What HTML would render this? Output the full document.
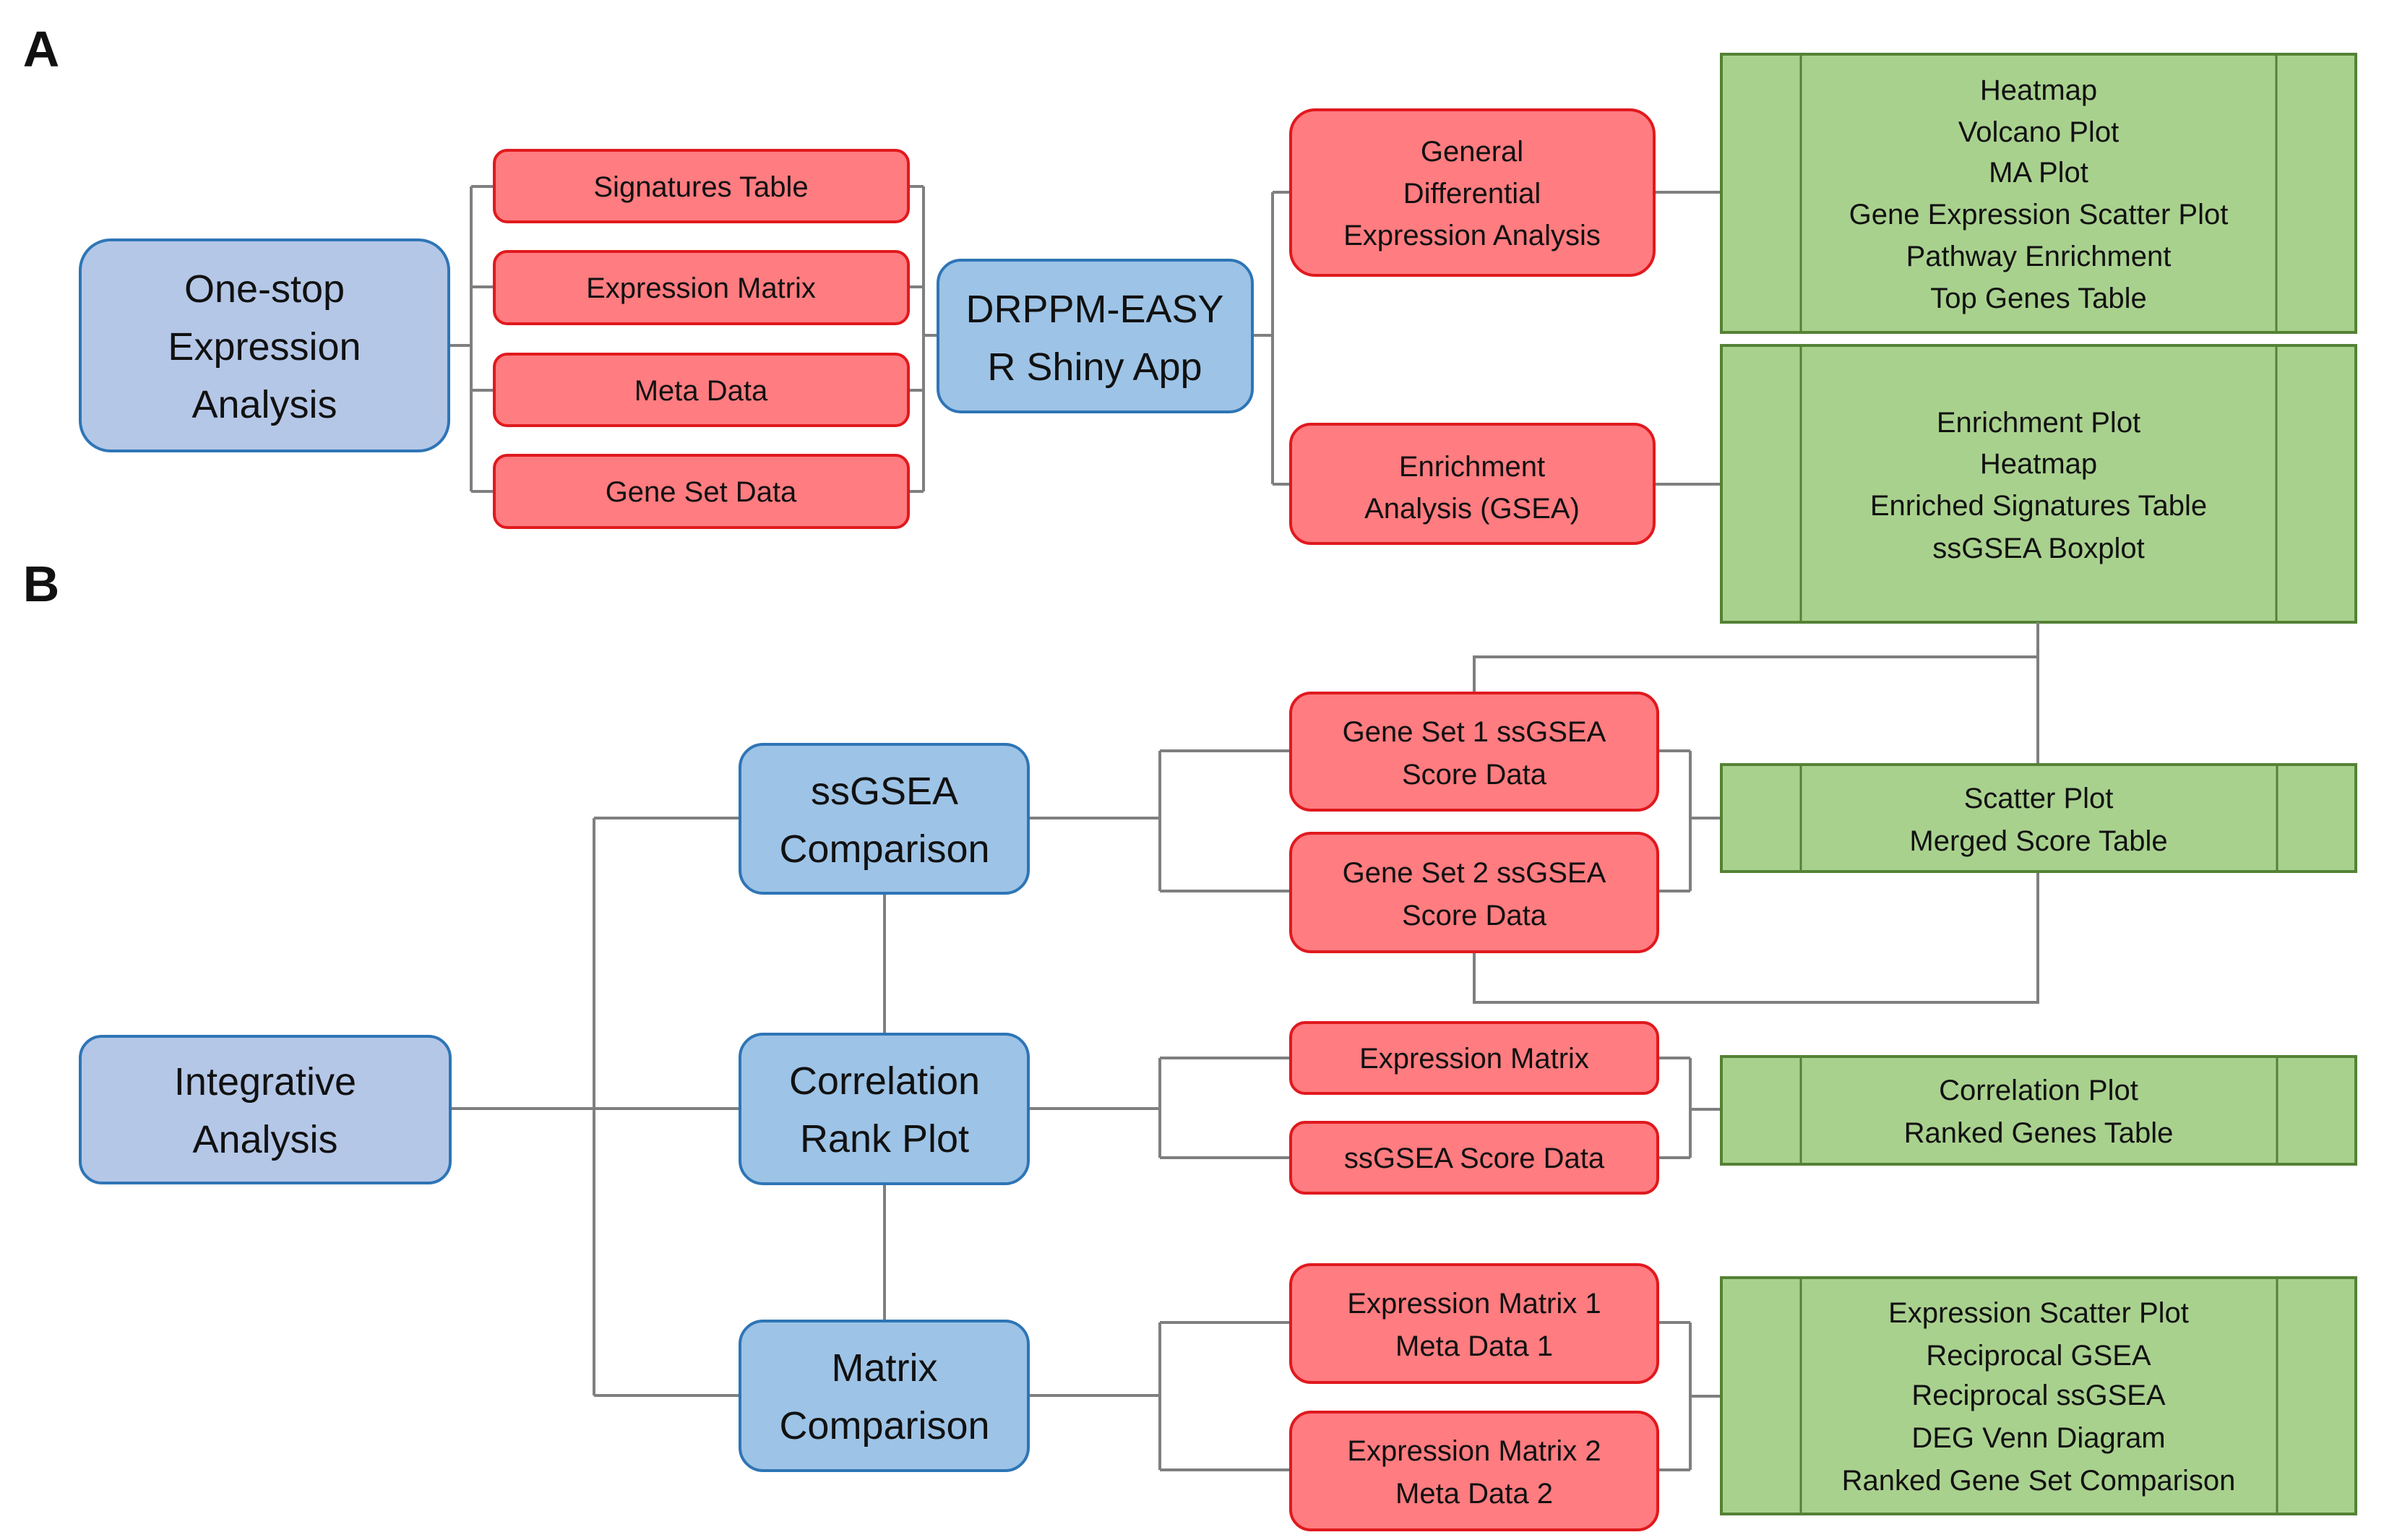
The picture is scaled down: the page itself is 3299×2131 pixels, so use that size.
<!DOCTYPE html>
<html><head><meta charset="utf-8"><style>
html,body{margin:0;padding:0;background:#fff;}
svg{display:block;}
text{font-family:"Liberation Sans",sans-serif;fill:#111;text-anchor:middle;}
.r{fill:#ff7c80;stroke:#e0191e;stroke-width:4;}
.b{fill:#9dc3e6;stroke:#2e75b6;stroke-width:4;}
.b2{fill:#b4c7e7;stroke:#2e75b6;stroke-width:4;}
.g{fill:#a9d18e;stroke:#548235;stroke-width:4;}
.gl{stroke:#548235;stroke-width:3;}
.l{stroke:#7f7f7f;stroke-width:4;fill:none;}
.s{font-size:40px;}
.m{font-size:54px;}
</style></head><body>
<svg width="3299" height="2131" viewBox="0 0 3299 2131" xmlns="http://www.w3.org/2000/svg">
<text x="57" y="92" style="font-size:70px;font-weight:bold">A</text>
<text x="57" y="832" style="font-size:70px;font-weight:bold">B</text>

<!-- Panel A connectors -->
<path class="l" d="M621 478 H652 M652 258 V680 M652 258 H684 M652 397 H684 M652 540 H684 M652 680 H684"/>
<path class="l" d="M1257 258 H1278 M1257 397 H1278 M1257 540 H1278 M1257 680 H1278 M1278 258 V680 M1278 464 H1298"/>
<path class="l" d="M1733 464 H1761 M1761 266 V670 M1761 266 H1786 M1761 670 H1786"/>
<path class="l" d="M2289 266 H2382 M2289 670 H2382"/>

<!-- Panel A nodes -->
<rect class="b2" x="111" y="332" width="510" height="292" rx="42"/>
<text class="m" x="366" y="418">One-stop</text>
<text class="m" x="366" y="498">Expression</text>
<text class="m" x="366" y="578">Analysis</text>

<rect class="r" x="684" y="208" width="573" height="99" rx="18"/>
<text class="s" x="970" y="272">Signatures Table</text>
<rect class="r" x="684" y="348" width="573" height="100" rx="18"/>
<text class="s" x="970" y="412">Expression Matrix</text>
<rect class="r" x="684" y="490" width="573" height="99" rx="18"/>
<text class="s" x="970" y="554">Meta Data</text>
<rect class="r" x="684" y="630" width="573" height="100" rx="18"/>
<text class="s" x="970" y="694">Gene Set Data</text>

<rect class="b" x="1298" y="360" width="435" height="210" rx="32"/>
<text class="m" x="1515" y="446">DRPPM-EASY</text>
<text class="m" x="1515" y="526">R Shiny App</text>

<rect class="r" x="1786" y="152" width="503" height="229" rx="34"/>
<text class="s" x="2037" y="223">General</text>
<text class="s" x="2037" y="281">Differential</text>
<text class="s" x="2037" y="339">Expression Analysis</text>
<rect class="r" x="1786" y="587" width="503" height="165" rx="28"/>
<text class="s" x="2037" y="659">Enrichment</text>
<text class="s" x="2037" y="717">Analysis (GSEA)</text>

<rect class="g" x="2382" y="75" width="878" height="385"/>
<line class="gl" x1="2492" y1="75" x2="2492" y2="460"/><line class="gl" x1="3150" y1="75" x2="3150" y2="460"/>
<text class="s" x="2821" y="138">Heatmap</text>
<text class="s" x="2821" y="196">Volcano Plot</text>
<text class="s" x="2821" y="252">MA Plot</text>
<text class="s" x="2821" y="310">Gene Expression Scatter Plot</text>
<text class="s" x="2821" y="368">Pathway Enrichment</text>
<text class="s" x="2821" y="426">Top Genes Table</text>

<rect class="g" x="2382" y="478" width="878" height="383"/>
<line class="gl" x1="2492" y1="478" x2="2492" y2="861"/><line class="gl" x1="3150" y1="478" x2="3150" y2="861"/>
<text class="s" x="2821" y="598">Enrichment Plot</text>
<text class="s" x="2821" y="655">Heatmap</text>
<text class="s" x="2821" y="713">Enriched Signatures Table</text>
<text class="s" x="2821" y="772">ssGSEA Boxplot</text>

<!-- Panel B connectors -->
<path class="l" d="M623 1534 H1024 M822 1132 V1931 M822 1132 H1024 M822 1931 H1024"/>
<path class="l" d="M1224 1236 V1431 M1224 1638 V1828"/>
<path class="l" d="M1423 1132 H1605 M1423 1534 H1605 M1423 1931 H1605"/>
<path class="l" d="M1605 1039 V1233 M1605 1039 H1786 M1605 1233 H1786"/>
<path class="l" d="M1605 1464 V1602 M1605 1464 H1786 M1605 1602 H1786"/>
<path class="l" d="M1605 1830 V2034 M1605 1830 H1786 M1605 2034 H1786"/>
<path class="l" d="M2294 1039 H2339 M2294 1233 H2339 M2339 1039 V1233 M2339 1132 H2382"/>
<path class="l" d="M2294 1464 H2339 M2294 1602 H2339 M2339 1464 V1602 M2339 1535 H2382"/>
<path class="l" d="M2294 1830 H2339 M2294 2034 H2339 M2339 1830 V2034 M2339 1932 H2382"/>
<path class="l" d="M2820 861 V1058 M2820 909 H2040 V959"/>
<path class="l" d="M2820 1206 V1387 H2040 V1317"/>

<!-- Panel B nodes -->
<rect class="b2" x="111" y="1434" width="512" height="203" rx="30"/>
<text class="m" x="367" y="1515">Integrative</text>
<text class="m" x="367" y="1595">Analysis</text>

<rect class="b" x="1024" y="1030" width="399" height="206" rx="32"/>
<text class="m" x="1224" y="1113">ssGSEA</text>
<text class="m" x="1224" y="1193">Comparison</text>
<rect class="b" x="1024" y="1431" width="399" height="207" rx="32"/>
<text class="m" x="1224" y="1514">Correlation</text>
<text class="m" x="1224" y="1594">Rank Plot</text>
<rect class="b" x="1024" y="1828" width="399" height="207" rx="32"/>
<text class="m" x="1224" y="1911">Matrix</text>
<text class="m" x="1224" y="1991">Comparison</text>

<rect class="r" x="1786" y="959" width="508" height="162" rx="28"/>
<text class="s" x="2040" y="1026">Gene Set 1 ssGSEA</text>
<text class="s" x="2040" y="1085">Score Data</text>
<rect class="r" x="1786" y="1153" width="508" height="164" rx="28"/>
<text class="s" x="2040" y="1221">Gene Set 2 ssGSEA</text>
<text class="s" x="2040" y="1280">Score Data</text>
<rect class="r" x="1786" y="1415" width="508" height="98" rx="20"/>
<text class="s" x="2040" y="1478">Expression Matrix</text>
<rect class="r" x="1786" y="1553" width="508" height="98" rx="20"/>
<text class="s" x="2040" y="1616">ssGSEA Score Data</text>
<rect class="r" x="1786" y="1750" width="508" height="163" rx="28"/>
<text class="s" x="2040" y="1817">Expression Matrix 1</text>
<text class="s" x="2040" y="1876">Meta Data 1</text>
<rect class="r" x="1786" y="1954" width="508" height="163" rx="28"/>
<text class="s" x="2040" y="2021">Expression Matrix 2</text>
<text class="s" x="2040" y="2080">Meta Data 2</text>

<rect class="g" x="2382" y="1058" width="878" height="148"/>
<line class="gl" x1="2492" y1="1058" x2="2492" y2="1206"/><line class="gl" x1="3151" y1="1058" x2="3151" y2="1206"/>
<text class="s" x="2821" y="1118">Scatter Plot</text>
<text class="s" x="2821" y="1177">Merged Score Table</text>

<rect class="g" x="2382" y="1462" width="878" height="149"/>
<line class="gl" x1="2492" y1="1462" x2="2492" y2="1611"/><line class="gl" x1="3151" y1="1462" x2="3151" y2="1611"/>
<text class="s" x="2821" y="1522">Correlation Plot</text>
<text class="s" x="2821" y="1581">Ranked Genes Table</text>

<rect class="g" x="2382" y="1768" width="878" height="327"/>
<line class="gl" x1="2492" y1="1768" x2="2492" y2="2095"/><line class="gl" x1="3151" y1="1768" x2="3151" y2="2095"/>
<text class="s" x="2821" y="1830">Expression Scatter Plot</text>
<text class="s" x="2821" y="1889">Reciprocal GSEA</text>
<text class="s" x="2821" y="1944">Reciprocal ssGSEA</text>
<text class="s" x="2821" y="2003">DEG Venn Diagram</text>
<text class="s" x="2821" y="2062">Ranked Gene Set Comparison</text>
</svg>
</body></html>
